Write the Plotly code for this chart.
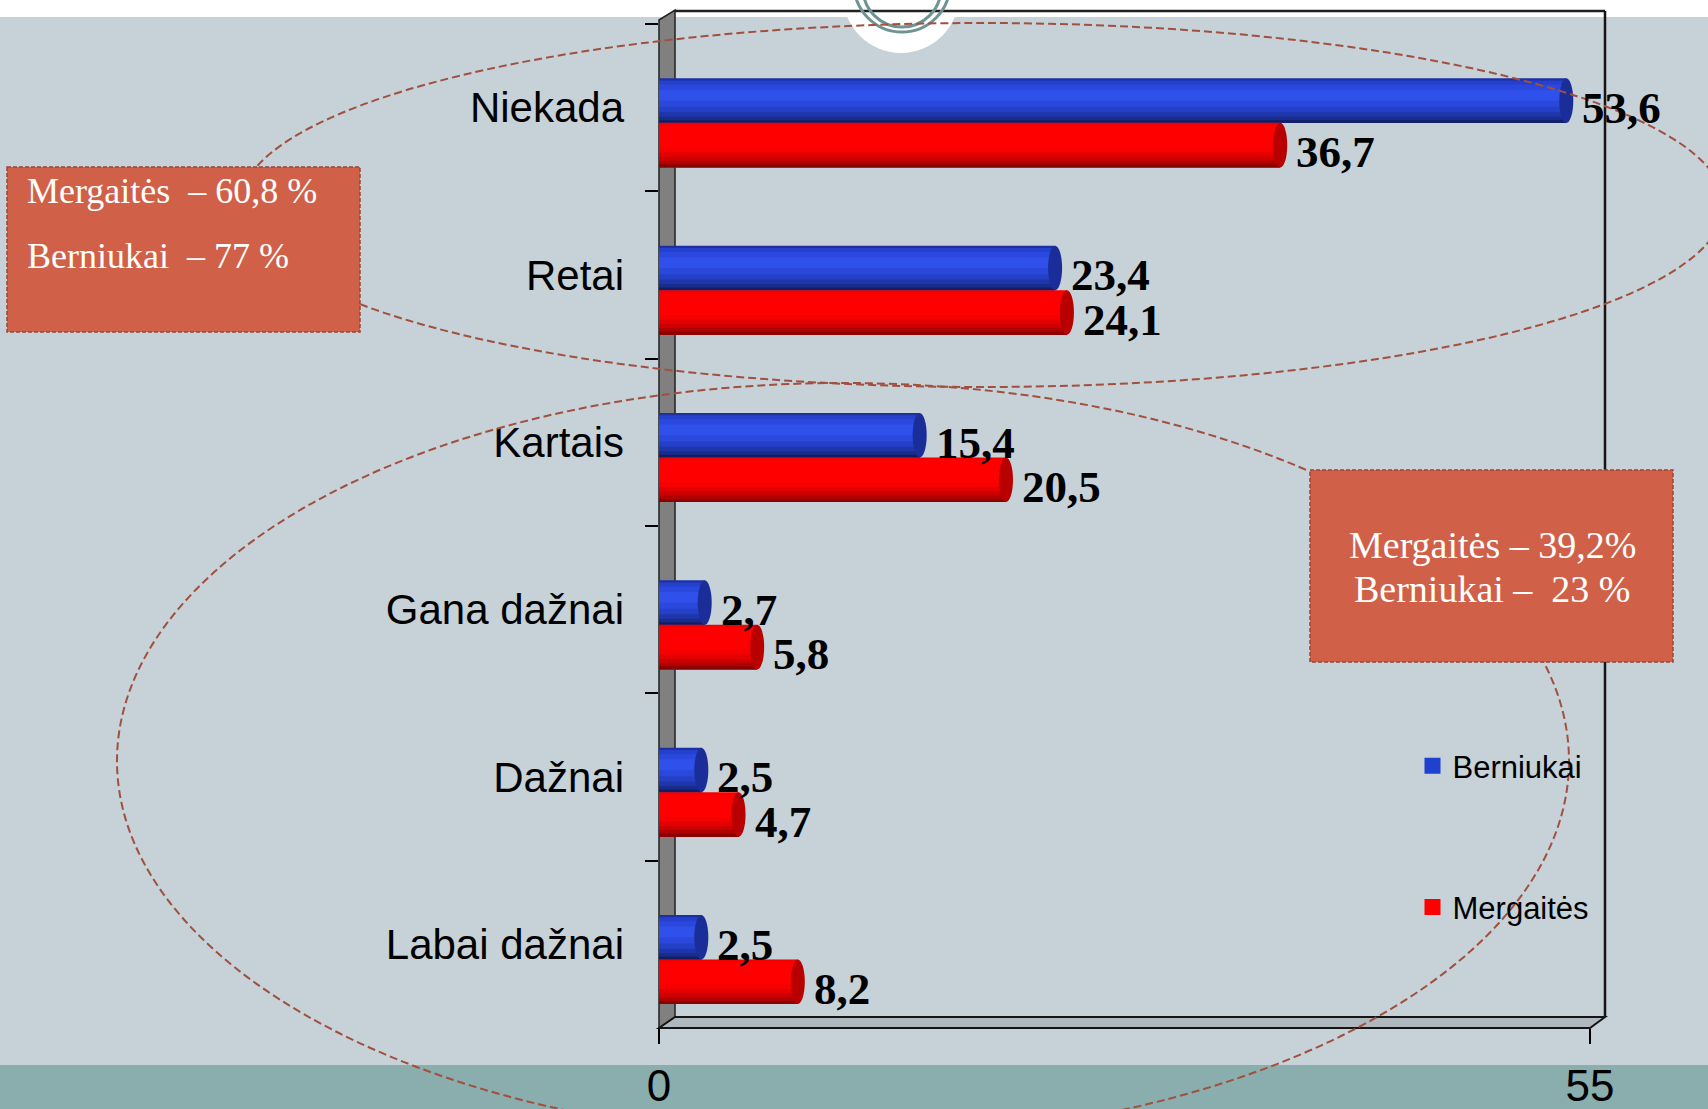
import plotly.graph_objects as go

# ---------------- data ----------------
categories = ["Niekada", "Retai", "Kartais", "Gana dažnai", "Dažnai", "Labai dažnai"]
berniukai = [53.6, 23.4, 15.4, 2.7, 2.5, 2.5]
mergaites = [36.7, 24.1, 20.5, 5.8, 4.7, 8.2]
series_names = ["Berniukai", "Mergaitės"]
x_tick_vals = [0, 55]
x_tick_text = ["0", "55"]
box_left_lines = ["Mergaitės&nbsp; – 60,8 %", "Berniukai&nbsp; – 77 %"]
box_right_lines = ["Mergaitės – 39,2%", "Berniukai –&nbsp; 23 %"]

# ---------------- geometry / style ----------------
W, H = 1708, 1109
L, R, T, B = 659, 118, 24, 81
PW, PH = W - L - R, H - T - B
XMAX = 55.0
PX_PER_UNIT = PW / XMAX
CAT_PX = PH / len(categories)

BG = "#C6D1D8"
TEAL = "#8AADAD"
BOX_FILL = "#D06148"
BOX_LINE = "#9C4434"
ELL_LINE = "#A2503E"
SANS = "Liberation Sans, Arial, sans-serif"
SERIF = "Liberation Serif, Times New Roman, serif"


def px(x):
    return (x - L) / PW


def py(y):
    return (H - B - y) / PH


bar_w = 44.5 / CAT_PX
blue_off = -29.3 / CAT_PX
red_off = blue_off + bar_w
cap_w = 14 / PX_PER_UNIT

# gradient bands: (start fraction from top, colour); each band runs to the bar bottom
blue_bands = [(0.00, "#1C30A4"), (0.05, "#2440CC"), (0.14, "#2A48DE"), (0.26, "#2F50EA"),
              (0.50, "#2A48DC"), (0.64, "#2440C6"), (0.76, "#1E36AA"), (0.86, "#182C8C"),
              (0.94, "#101E64")]
red_bands = [(0.00, "#F40000"), (0.06, "#FF0000"), (0.55, "#F60000"), (0.66, "#E40000"),
             (0.76, "#CC0000"), (0.85, "#B00000"), (0.93, "#880000")]

series = [
    (series_names[0], berniukai, blue_off, blue_bands, "#1B2D98", "#2040D0"),
    (series_names[1], mergaites, red_off, red_bands, "#B80000", "#FF0000"),
]

fig = go.Figure()
shapes_above = []
annotations = []

for name, vals, off, bands, cap_col, leg_col in series:
    for f0, col in bands:
        fig.add_trace(go.Bar(
            y=categories, x=vals, orientation="h",
            offset=off + f0 * bar_w, width=(1 - f0) * bar_w,
            marker=dict(color=col, line=dict(width=0)),
            showlegend=False, hoverinfo="skip",
        ))
    for i, v in enumerate(vals):
        shapes_above.append(dict(
            type="circle", xref="x", yref="y", layer="above",
            x0=v - cap_w / 2, x1=v + cap_w / 2,
            y0=i + off, y1=i + off + bar_w,
            fillcolor=cap_col, line=dict(width=0),
        ))
        annotations.append(dict(
            x=v, y=i + off + bar_w, xref="x", yref="y",
            text=f"{v:.1f}".replace(".", ","), showarrow=False,
            xanchor="left", yanchor="middle", xshift=cap_w / 2 * PX_PER_UNIT + 7, yshift=15,
            font=dict(family=SERIF, size=45, color="black", weight="bold"),
        ))
    fig.add_trace(go.Scatter(
        x=[None], y=[None], mode="markers", name=name, legendgroup=name,
        marker=dict(symbol="square", size=16, color=leg_col),
        hoverinfo="skip",
    ))

# ---------------- decoration shapes ----------------
shapes_below = [
    dict(type="rect", xref="paper", yref="paper", x0=px(0), x1=px(W), y0=py(0), y1=py(17),
         fillcolor="white", line=dict(width=0), layer="below"),
    dict(type="circle", xref="paper", yref="paper", x0=px(901 - 58), x1=px(901 + 58),
         y0=py(-5 - 58), y1=py(-5 + 58), fillcolor="white", line=dict(width=0), layer="below"),
    dict(type="rect", xref="paper", yref="paper", x0=px(0), x1=px(W), y0=py(1065), y1=py(H),
         fillcolor=TEAL, line=dict(width=0), layer="below"),
    # side wall
    dict(type="path", xref="paper", yref="paper", layer="below",
         path=f"M{px(659)},{py(20)} L{px(675)},{py(10)} L{px(675)},{py(1017)} L{px(659)},{py(1028)} Z",
         fillcolor="#808080", line=dict(color="#202020", width=1.5)),
    # floor
    dict(type="path", xref="paper", yref="paper", layer="below",
         path=f"M{px(659)},{py(1028)} L{px(675)},{py(1017)} L{px(1605)},{py(1017)} L{px(1590)},{py(1028)} Z",
         fillcolor="#AEB8BE", line=dict(color="#151515", width=2)),
    # back wall top and right edges
    dict(type="line", xref="paper", yref="paper", layer="below",
         x0=px(675), x1=px(1605), y0=py(11), y1=py(11), line=dict(color="#202020", width=2.5)),
    dict(type="line", xref="paper", yref="paper", layer="below",
         x0=px(1605), x1=px(1605), y0=py(11), y1=py(1017), line=dict(color="#151515", width=2.5)),
    # rings at top
    dict(type="circle", xref="paper", yref="paper", layer="below",
         x0=px(902 - 48), x1=px(902 + 48), y0=py(-16 - 48), y1=py(-16 + 48),
         line=dict(color="#6E9393", width=3)),
    dict(type="circle", xref="paper", yref="paper", layer="below",
         x0=px(902 - 39), x1=px(902 + 39), y0=py(-12 - 39), y1=py(-12 + 39),
         line=dict(color="#6E9393", width=3)),
]

ellipses = [
    dict(type="circle", xref="paper", yref="paper", layer="above",
         x0=px(982 - 742), x1=px(982 + 742), y0=py(205 - 182), y1=py(205 + 182),
         line=dict(color=ELL_LINE, width=2, dash="8px,4px")),
    dict(type="circle", xref="paper", yref="paper", layer="above",
         x0=px(843 - 726), x1=px(843 + 726), y0=py(761 - 378), y1=py(761 + 378),
         line=dict(color=ELL_LINE, width=2, dash="8px,4px")),
]

boxes = [
    dict(type="rect", xref="paper", yref="paper", layer="above",
         x0=px(7), x1=px(360), y0=py(167), y1=py(332),
         fillcolor=BOX_FILL, line=dict(color=BOX_LINE, width=1.5, dash="4px,2px")),
    dict(type="rect", xref="paper", yref="paper", layer="above",
         x0=px(1310), x1=px(1673), y0=py(470), y1=py(662),
         fillcolor=BOX_FILL, line=dict(color=BOX_LINE, width=1.5, dash="4px,2px")),
]

box_font_l = dict(family=SERIF, size=36, color="white")
box_font_r = dict(family=SERIF, size=38, color="white")
annotations += [
    dict(x=px(25), y=py(191), xref="paper", yref="paper", text=box_left_lines[0],
         showarrow=False, xanchor="left", yanchor="middle", font=box_font_l),
    dict(x=px(25), y=py(256), xref="paper", yref="paper", text=box_left_lines[1],
         showarrow=False, xanchor="left", yanchor="middle", font=box_font_l),
    dict(x=px(1492), y=py(545), xref="paper", yref="paper", text=box_right_lines[0],
         showarrow=False, xanchor="center", yanchor="middle", font=box_font_r),
    dict(x=px(1492), y=py(589), xref="paper", yref="paper", text=box_right_lines[1],
         showarrow=False, xanchor="center", yanchor="middle", font=box_font_r),
]

fig.update_layout(
    width=W, height=H,
    margin=dict(l=L, r=R, t=T, b=B, pad=0, autoexpand=False),
    paper_bgcolor=BG, plot_bgcolor="rgba(0,0,0,0)",
    barmode="overlay",
    shapes=shapes_below + shapes_above + ellipses + boxes,
    annotations=annotations,
    showlegend=True,
    legend=dict(
        xref="paper", yref="paper",
        x=px(1434.5 - 22), y=py(765 - 26), xanchor="left", yanchor="top",
        font=dict(family=SANS, size=31, color="black"),
        bgcolor="rgba(0,0,0,0)", tracegroupgap=98,
    ),
    xaxis=dict(
        range=[0, XMAX], tickvals=x_tick_vals, ticktext=x_tick_text,
        ticks="outside", ticklen=15, tickwidth=1.5, tickcolor="black",
        showgrid=False, zeroline=False, showline=False, automargin=False,
        tickfont=dict(family=SANS, size=44, color="black"),
        ticklabelstandoff=4, fixedrange=True,
    ),
    yaxis=dict(
        type="category", categoryorder="array", categoryarray=categories,
        range=[len(categories) - 0.5, -0.5],
        ticks="outside", tickson="boundaries", ticklen=13, tickwidth=1.5, tickcolor="black",
        showgrid=False, zeroline=False, showline=False, automargin=False,
        tickfont=dict(family=SANS, size=42, color="black"),
        ticklabelstandoff=34, fixedrange=True,
    ),
)

fig.write_html(
    "out.html",
    config={"displayModeBar": False},
    post_script="document.body.style.margin='0';document.body.style.overflow='hidden';",
)
